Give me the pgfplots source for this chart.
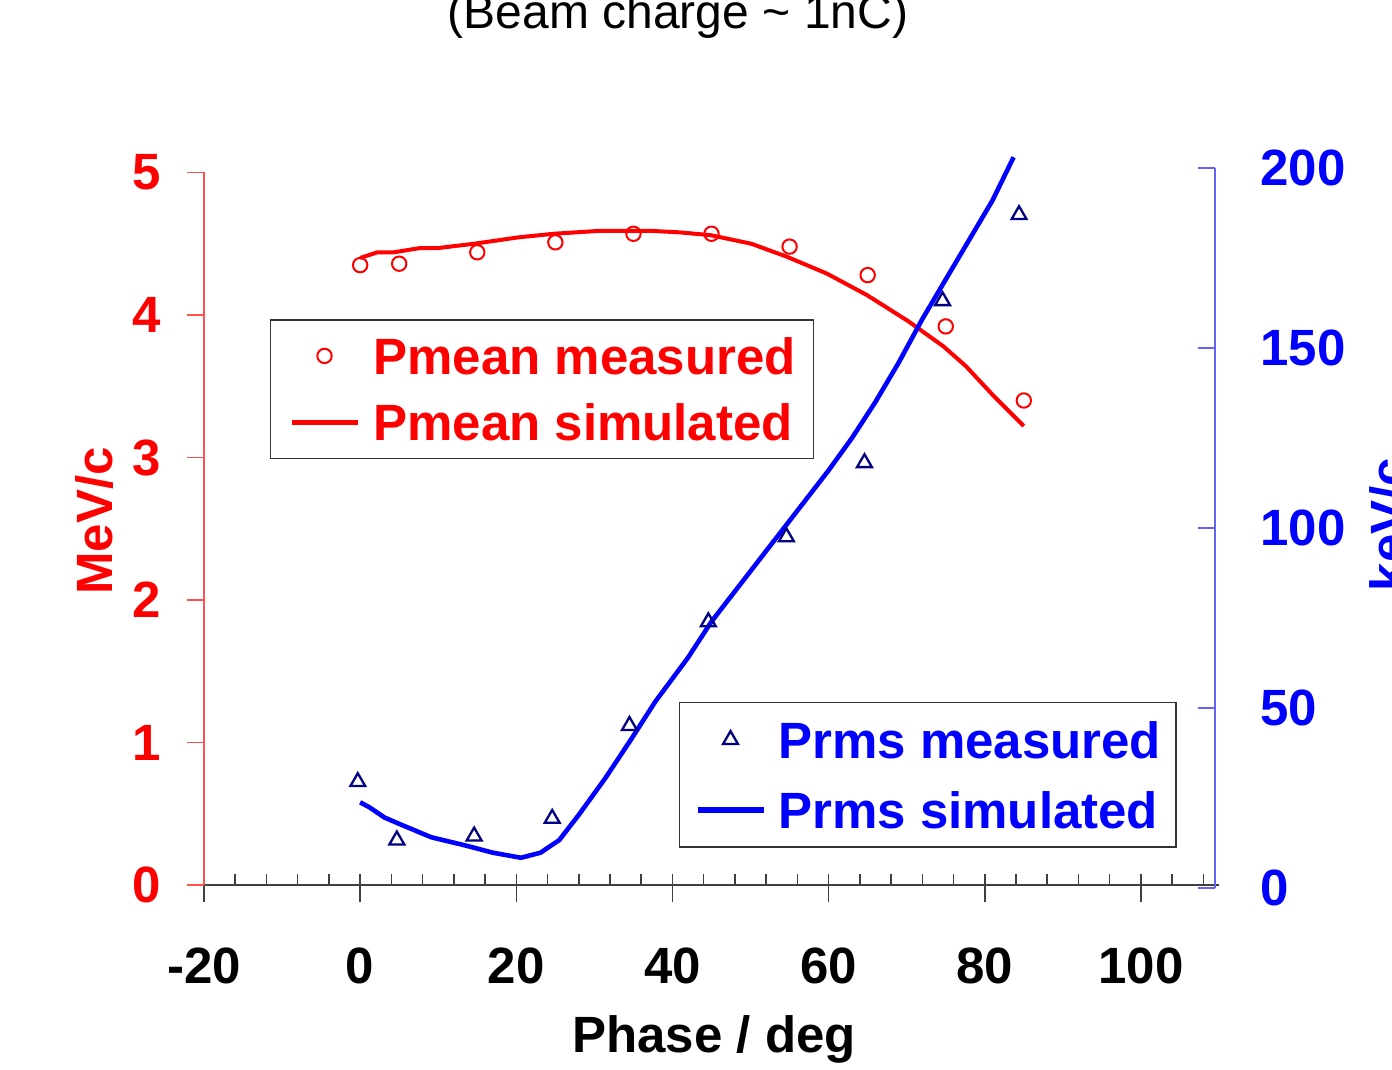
\documentclass[border=0pt]{standalone}
\usepackage{pgfplots}
\pgfplotsset{compat=1.18}
\usepackage{fontspec}
\setmainfont{Liberation Sans}
\definecolor{navy}{RGB}{0,0,128}
\definecolor{axred}{RGB}{255,80,80}
\definecolor{axblue}{RGB}{100,100,240}
\newcommand\bigfont{\fontsize{25.5}{30}\selectfont\bfseries}
\pgfplotsset{/pgf/number format/assume math mode=true}

\pgfplotstableread{
x y
0 4.35
5 4.36
15 4.44
25 4.51
35 4.57
45 4.57
55 4.48
65 4.28
75 3.92
85 3.40
}\pmeanmeas
\pgfplotstableread{
x y
0 4.40
2.2 4.44
4.3 4.44
7.7 4.47
10 4.47
14.6 4.50
20.3 4.545
24.8 4.57
30.5 4.59
37.4 4.59
40.9 4.58
44.9 4.56
50.1 4.50
54.6 4.41
59.8 4.29
64.9 4.14
70.1 3.96
74.7 3.78
77.6 3.64
81.0 3.44
85.0 3.22
}\pmeansim
\pgfplotstableread{
x y
-0.3 29.5
4.7 13.3
14.6 14.4
24.6 19.3
34.5 45.1
44.6 73.9
54.6 97.5
64.6 118.1
74.6 163.1
84.4 187.0
}\prmsmeas
\pgfplotstableread{
x y
0 23.8
1.2 22.4
3.1 19.6
4.8 18.0
9.1 14.1
13.6 11.75
17.0 9.8
20.6 8.4
23.1 9.8
25.5 13.3
28.0 20.3
31.4 30.5
34.8 41.6
37.8 51.75
42 64
45 74
50 88
55 102
60 116
63 125
66 135
69 146
72 158
75 169
78 180
81 191
83.7 203
}\prmssim

\begin{document}
\begin{tikzpicture}
% x axis: inside ticks, labels, xlabel
\begin{axis}[
  scale only axis, width=507.5pt, height=356.25pt,
  at={(102pt,92.5pt)}, anchor=south west,
  xmin=-20, xmax=110, ymin=0, ymax=1,
  axis x line=bottom, axis y line=none,
  axis line style={-, draw=black!75, line width=0.75pt},
  xtick={-20,0,...,100}, minor xtick={-20,-16,...,108},
  tick align=inside, major tick length=5.5pt, minor tick length=5.5pt,
  tick style={black!75, line width=0.75pt},
  xticklabel style={font=\bigfont, inner sep=0pt, anchor=north, yshift=-31pt},
  xlabel={Phase / deg},
  xlabel style={font=\bigfont, at={(axis description cs:0.5025,0)}, anchor=base, yshift=-84pt},
]
\end{axis}
% x axis: outward part of major ticks
\begin{axis}[
  scale only axis, width=507.5pt, height=356.25pt,
  at={(102pt,92.5pt)}, anchor=south west,
  xmin=-20, xmax=110, ymin=0, ymax=1,
  axis x line=bottom, axis y line=none,
  axis line style={draw=none},
  xtick={-20,0,...,100}, xticklabels={},
  tick align=outside, major tick length=8.7pt,
  tick style={black!75, line width=0.75pt},
]
\end{axis}
% left axis: Pmean
\begin{axis}[
  scale only axis, width=507.5pt, height=356.25pt,
  at={(102pt,92.5pt)}, anchor=south west,
  xmin=-20, xmax=110, ymin=0, ymax=5,
  axis x line=none, axis y line=left,
  axis line style={-, draw=axred, line width=0.75pt},
  ytick={0,1,2,3,4,5},
  tick align=outside, major tick length=8.5pt,
  tick style={axred, line width=0.75pt},
  yticklabel style={font=\bigfont, text=red, inner sep=0pt, anchor=east, xshift=-13pt},
  ylabel={MeV/c},
  ylabel style={font=\bigfont, text=red, at={([xshift=-46pt]axis description cs:0,0.511)}, anchor=base},
  clip=false,
  legend cell align=left,
  legend image code/.code={\draw[mark repeat=2,mark phase=2,#1] plot coordinates {(0pt,0pt) (16.5pt,0pt) (33pt,0pt)};},
  legend style={at={(axis description cs:0.065,0.794)}, anchor=north west,
    draw=black!80, line width=0.75pt, fill=white, font=\bigfont, text=red,
    inner xsep=9pt, inner ysep=8.8pt, row sep=15pt, column sep=6.5pt,
    nodes={inner sep=0pt, text height=18.3pt, text depth=0pt}},
]
\addplot[only marks, mark=o, mark size=3.6pt, red, line width=1pt] table[x=x,y=y]{\pmeanmeas};
\addlegendentry{Pmean measured}
\addplot[red, line width=2pt, no marks, line join=round, forget plot] table[x=x,y=y]{\pmeansim};
\addlegendimage{red, line width=2.8pt, no marks}
\addlegendentry{Pmean simulated}
\end{axis}
% right axis: Prms
\begin{axis}[
  scale only axis, width=505.5pt, height=360pt,
  at={(102pt,91pt)}, anchor=south west,
  xmin=-20, xmax=109.5, ymin=0, ymax=200,
  axis x line=none, axis y line=right,
  axis line style={-, draw=axblue, line width=0.75pt},
  ytick={0,50,...,200},
  tick align=inside, major tick length=8.5pt,
  tick style={axblue, line width=0.75pt},
  yticklabel style={font=\bigfont, text=blue, inner sep=0pt, anchor=west, xshift=22.5pt},
  ylabel={keV/c},
  ylabel style={font=\bigfont, text=blue, at={([xshift=95.75pt]axis description cs:1,0.505)}, anchor=base},
  clip=false,
  legend cell align=left,
  legend image code/.code={\draw[mark repeat=2,mark phase=2,#1] plot coordinates {(0pt,0pt) (16.5pt,0pt) (33pt,0pt)};},
  legend style={at={(axis description cs:0.4698,0.2588)}, anchor=north west,
    draw=black!80, line width=0.75pt, fill=white, font=\bigfont, text=blue,
    inner xsep=7.5pt, inner ysep=9.5pt, row sep=16.7pt, column sep=6pt,
    nodes={inner sep=0pt, text height=18.3pt, text depth=0pt}},
]
\addplot[only marks, mark=triangle, mark size=4.3pt, navy, line width=1.15pt] table[x=x,y=y]{\prmsmeas};
\addlegendentry{Prms measured}
\addplot[blue, line width=2.3pt, no marks, line join=round, forget plot] table[x=x,y=y]{\prmssim};
\addlegendimage{blue, line width=2.8pt, no marks}
\addlegendentry{Prms simulated}
\end{axis}
\node[anchor=base, font=\fontsize{24}{28}\selectfont] at (339pt,520.65pt) {(Beam charge \textasciitilde{} 1nC)};
\pgfresetboundingbox
\useasboundingbox (0,0) rectangle (696pt,535pt);
\end{tikzpicture}
\end{document}
